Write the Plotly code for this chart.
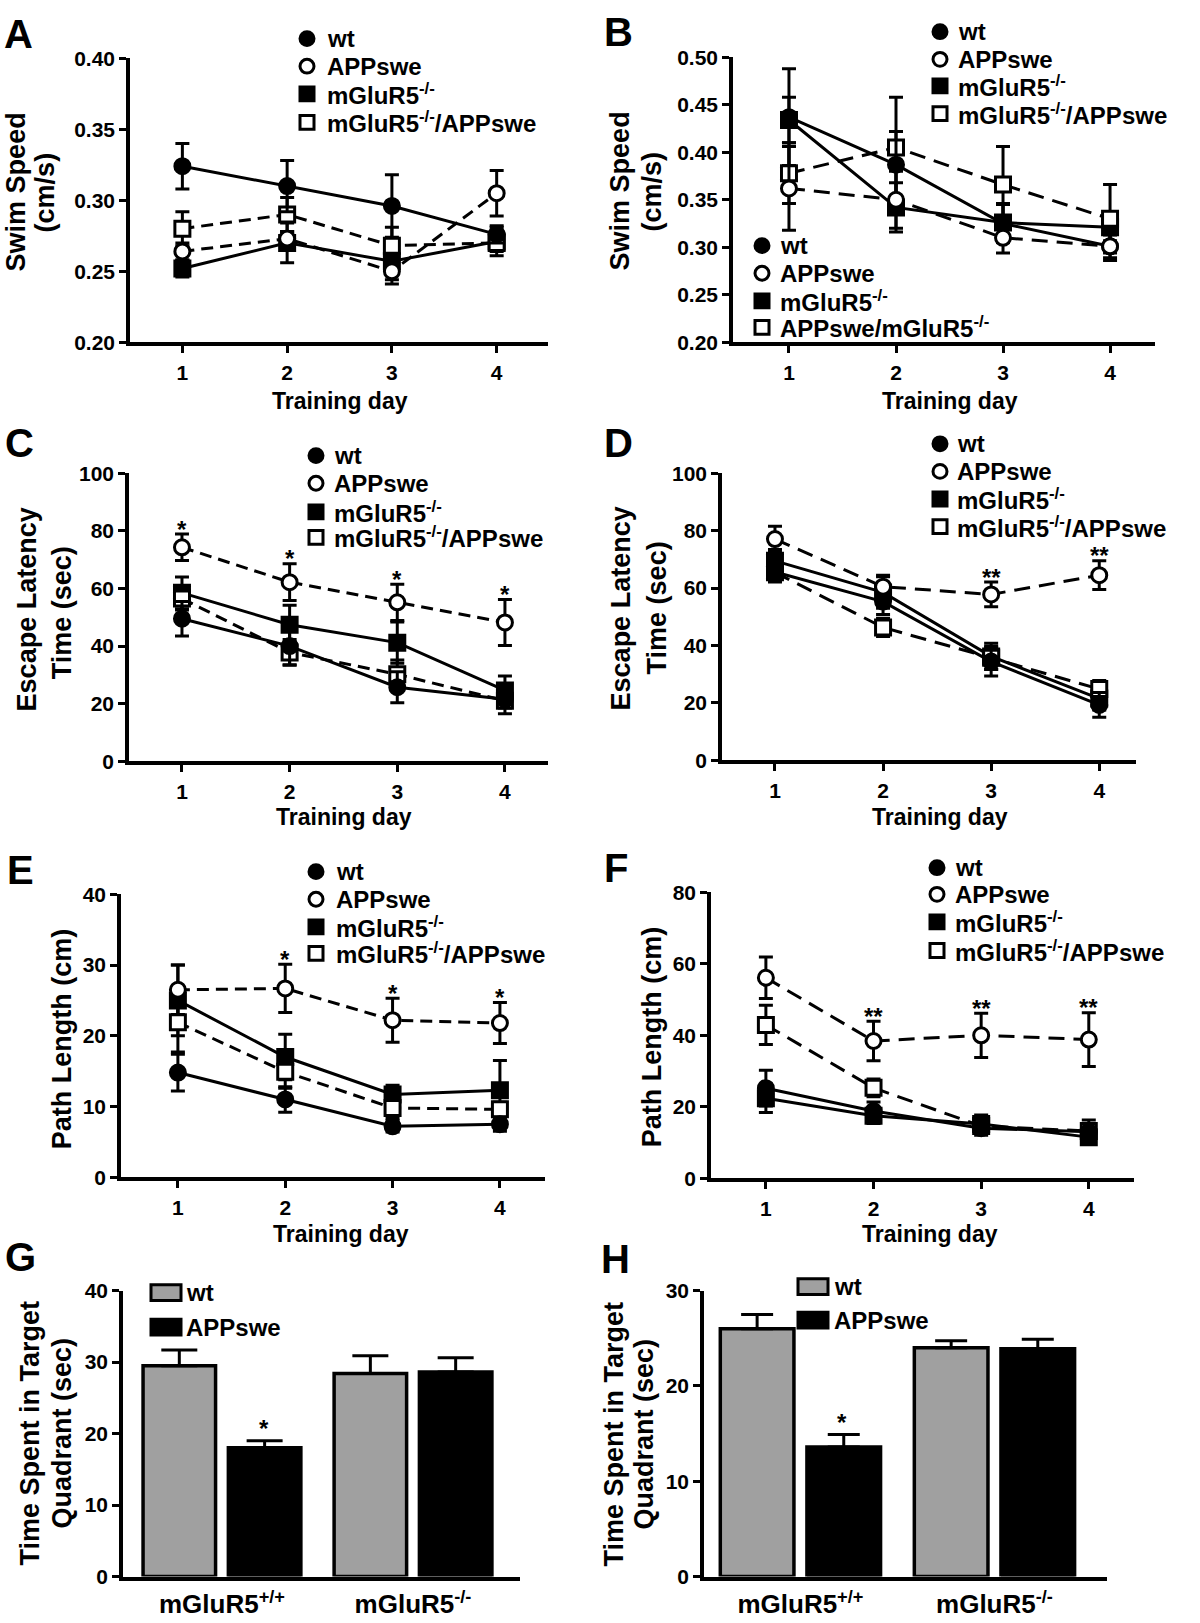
import plotly.graph_objects as go

W, H = 1200, 1623
FONT = "Liberation Sans, Arial, sans-serif"

days = [1, 2, 3, 4]

# ---- A: swim speed (cohort 1)
a_wt = [0.324, 0.310, 0.296, 0.276]
a_wt_err = [0.016, 0.018, 0.022, 0.006]
a_app = [0.264, 0.273, 0.250, 0.305]
a_app_err = [0.006, 0.005, 0.006, 0.016]
a_mglu = [0.252, 0.270, 0.257, 0.271]
a_mglu_err = [0.006, 0.014, 0.016, 0.010]
a_dbl = [0.280, 0.290, 0.268, 0.270]
a_dbl_err = [0.012, 0.012, 0.013, 0.006]

# ---- B: swim speed (cohort 2)
b_wt = [0.437, 0.387, 0.325, 0.301]
b_wt_err = [0.051, 0.035, 0.020, 0.015]
b_app = [0.362, 0.350, 0.310, 0.301]
b_app_err = [0.044, 0.030, 0.016, 0.012]
b_mglu = [0.434, 0.342, 0.326, 0.321]
b_mglu_err = [0.024, 0.026, 0.020, 0.014]
b_dbl = [0.378, 0.405, 0.366, 0.330]
b_dbl_err = [0.032, 0.053, 0.040, 0.036]

# ---- C: escape latency (cohort 1)
c_wt = [49.5, 40.0, 25.7, 21.5]
c_wt_err = [6.0, 6.5, 5.4, 3.0]
c_app = [74.3, 62.2, 55.2, 48.2]
c_app_err = [4.6, 6.4, 6.3, 8.0]
c_mglu = [58.5, 47.4, 41.2, 24.6]
c_mglu_err = [5.5, 6.8, 7.2, 5.0]
c_dbl = [56.5, 37.8, 30.2, 21.0]
c_dbl_err = [4.0, 4.5, 5.0, 4.5]

# ---- D: escape latency (cohort 2)
d_wt = [65.6, 55.3, 34.4, 19.3]
d_wt_err = [3.5, 4.5, 5.0, 4.3]
d_app = [77.1, 60.5, 57.8, 64.5]
d_app_err = [4.5, 4.0, 4.3, 5.0]
d_mglu = [69.5, 58.5, 36.2, 21.5]
d_mglu_err = [4.0, 5.5, 4.6, 4.0]
d_dbl = [65.5, 46.3, 35.7, 24.8]
d_dbl_err = [3.0, 3.2, 4.0, 3.0]

# ---- E: path length (cohort 1)
e_wt = [14.8, 11.0, 7.2, 7.5]
e_wt_err = [2.6, 1.8, 0.8, 1.0]
e_app = [26.5, 26.7, 22.2, 21.8]
e_app_err = [3.5, 3.4, 3.1, 2.9]
e_mglu = [25.0, 17.0, 11.7, 12.3]
e_mglu_err = [5.0, 3.2, 1.3, 4.2]
e_dbl = [21.9, 14.9, 9.8, 9.6]
e_dbl_err = [4.2, 2.3, 1.5, 1.0]

# ---- F: path length (cohort 2)
f_wt = [25.2, 18.8, 14.0, 13.0]
f_wt_err = [5.0, 2.5, 2.0, 3.3]
f_app = [56.1, 38.4, 40.0, 38.8]
f_app_err = [5.8, 5.5, 6.2, 7.5]
f_mglu = [22.4, 17.5, 15.2, 11.5]
f_mglu_err = [4.0, 2.2, 2.5, 1.5]
f_dbl = [42.9, 25.3, 14.6, 13.2]
f_dbl_err = [5.5, 2.5, 2.0, 1.5]

# ---- G / H: probe trial
genotypes = ["mGluR5<sup>+/+</sup>", "mGluR5<sup>-/-</sup>"]
g_wt = [29.5, 28.4]
g_wt_err = [2.2, 2.5]
g_app = [18.0, 28.6]
g_app_err = [1.0, 2.0]
h_wt = [26.0, 24.0]
h_wt_err = [1.5, 0.75]
h_app = [13.6, 23.9]
h_app_err = [1.3, 1.0]

# significance marks
c_stars = ["*", "*", "*", "*"]
d_stars = ["", "", "**", "**"]
e_stars = ["", "*", "*", "*"]
f_stars = ["", "**", "**", "**"]

legend_names = ["wt", "APPswe", "mGluR5<sup>-/-</sup>", "mGluR5<sup>-/-</sup>/APPswe"]
legend_names_b2 = ["wt", "APPswe", "mGluR5<sup>-/-</sup>", "APPswe/mGluR5<sup>-/-</sup>"]


def fx(x):
    return x / W


def fy(y):
    return 1 - y / H


fig = go.Figure()

# panel geometry in pixels: (x0, x1, ytop, ybottom)
geo = {
    1: (130, 548, 47, 335), 2: (733, 1155, 46, 335),
    3: (129, 548, 468, 760), 4: (722, 1136, 468, 759),
    5: (121, 545, 895, 1182), 6: (711, 1134, 893, 1183),
    7: (123, 520, 1297, 1587), 8: (704, 1107, 1297, 1587),
}
xranges = {1: [0.5, 4.49], 2: [0.477, 4.42], 3: [0.508, 4.4], 4: [0.51, 4.34],
           5: [0.47, 4.42], 6: [0.49, 4.42], 7: [-0.518, 1.56], 8: [-0.497, 1.58]}
yaxes_cfg = {1: ([0.2, 0.4], 0.05, ".2f"), 2: ([0.2, 0.5], 0.05, ".2f"),
             3: ([0, 100], 20, "d"), 4: ([0, 100], 20, "d"),
             5: ([0, 40], 10, "d"), 6: ([0, 80], 20, "d"),
             7: ([0, 40], 10, "d"), 8: ([0, 30], 10, "d")}

for i, (x0, x1, yt, yb) in geo.items():
    xn = "xaxis" if i == 1 else f"xaxis{i}"
    yn = "yaxis" if i == 1 else f"yaxis{i}"
    anchor_x = "y" if i == 1 else f"y{i}"
    anchor_y = "x" if i == 1 else f"x{i}"
    bar = i >= 7
    xa = dict(domain=[fx(x0), fx(x1)], anchor=anchor_x, range=xranges[i],
              showline=True, linewidth=3.5, linecolor="black", showgrid=False,
              zeroline=False, ticks="" if bar else "outside", ticklen=7, tickwidth=3,
              tickcolor="black", ticklabelstandoff=2,
              tickfont=dict(family=FONT, size=26 if bar else 21, color="black", weight="bold"))
    if bar:
        xa.update(type="category")
    else:
        xa.update(tickmode="array", tickvals=days, ticktext=[str(d) for d in days])
    yr, dt, fmt = yaxes_cfg[i]
    ya = dict(domain=[fy(yb), fy(yt)], anchor=anchor_y, range=yr, dtick=dt, tick0=yr[0],
              tickformat=fmt, showline=True, linewidth=3.5, linecolor="black",
              showgrid=False, zeroline=False, ticks="outside", ticklen=7, tickwidth=3,
              tickcolor="black",
              tickfont=dict(family=FONT, size=21, color="black", weight="bold"))
    fig.update_layout(**{xn: xa, yn: ya})


def add_panel(i, wt, wte, app, appe, mg, mge, dbl, dble, dash):
    xr = "x" if i == 1 else f"x{i}"
    yr = "y" if i == 1 else f"y{i}"
    series = [
        (mg, mge, "square", "black", "solid"),
        (dbl, dble, "square", "white", dash),
        (wt, wte, "circle", "black", "solid"),
        (app, appe, "circle", "white", dash),
    ]
    for vals, errs, sym, fill, ds in series:
        fig.add_trace(go.Scatter(
            x=days, y=vals, xaxis=xr, yaxis=yr, mode="lines+markers",
            line=dict(color="black", width=3, dash=ds),
            marker=dict(symbol=sym, size=15, color=fill,
                        line=dict(color="black", width=3)),
            error_y=dict(type="data", array=errs, visible=True, color="black",
                         thickness=3, width=7),
            showlegend=False))


add_panel(1, a_wt, a_wt_err, a_app, a_app_err, a_mglu, a_mglu_err, a_dbl, a_dbl_err, "12px,7px")
add_panel(2, b_wt, b_wt_err, b_app, b_app_err, b_mglu, b_mglu_err, b_dbl, b_dbl_err, "16px,9px")
add_panel(3, c_wt, c_wt_err, c_app, c_app_err, c_mglu, c_mglu_err, c_dbl, c_dbl_err, "12px,7px")
add_panel(4, d_wt, d_wt_err, d_app, d_app_err, d_mglu, d_mglu_err, d_dbl, d_dbl_err, "16px,9px")
add_panel(5, e_wt, e_wt_err, e_app, e_app_err, e_mglu, e_mglu_err, e_dbl, e_dbl_err, "12px,7px")
add_panel(6, f_wt, f_wt_err, f_app, f_app_err, f_mglu, f_mglu_err, f_dbl, f_dbl_err, "16px,9px")


def add_bars(i, wt, wte, app, appe):
    xr, yr = f"x{i}", f"y{i}"
    for vals, errs, col in [(wt, wte, "#a0a0a0"), (app, appe, "black")]:
        fig.add_trace(go.Bar(
            x=genotypes, y=vals, xaxis=xr, yaxis=yr,
            marker=dict(color=col, line=dict(color="black", width=3.5)),
            error_y=dict(type="data", array=errs, arrayminus=[0] * len(errs),
                         symmetric=False, visible=True, color="black",
                         thickness=3, width=18 if i == 7 else 16),
            showlegend=False))


add_bars(7, g_wt, g_wt_err, g_app, g_app_err)
add_bars(8, h_wt, h_wt_err, h_app, h_app_err)

ann = []
shapes = []
star_font = dict(family=FONT, size=24, color="black", weight="bold")

# significance asterisks anchored to error bar tops
for i, vals, errs, stars in [(3, c_app, c_app_err, c_stars), (4, d_app, d_app_err, d_stars),
                             (5, e_app, e_app_err, e_stars), (6, f_app, f_app_err, f_stars)]:
    for d, v, e, s in zip(days, vals, errs, stars):
        if s:
            ann.append(dict(x=d, y=v + e, xref=f"x{i}", yref=f"y{i}", text=s,
                            showarrow=False, yanchor="middle", yshift=5, font=star_font))
for i, vals, errs in [(7, g_app, g_app_err), (8, h_app, h_app_err)]:
    ann.append(dict(x=genotypes[0], y=vals[0] + errs[0], xref=f"x{i}", yref=f"y{i}",
                    text="*", showarrow=False, yanchor="middle", yshift=12, xshift=42,
                    font=star_font))

# panel letters
for t, cx, cy in [("A", 18, 22), ("B", 618, 20), ("C", 19, 437), ("D", 618, 437),
                  ("E", 20, 870), ("F", 616, 868), ("G", 20, 1263), ("H", 615, 1265)]:
    ann.append(dict(x=fx(cx), y=fy(cy), xref="paper", yref="paper", text=t, showarrow=False,
                    xanchor="center", yanchor="middle",
                    font=dict(family=FONT, size=40, color="black", weight="bold")))

# y-axis titles
for t, cx, cy in [("Swim Speed", 16, 183), ("(cm/s)", 45, 183),
                  ("Swim Speed", 620, 182), ("(cm/s)", 652, 182),
                  ("Escape Latency", 27, 606), ("Time (sec)", 62, 610),
                  ("Escape Latency", 621, 605), ("Time (sec)", 657, 605),
                  ("Path Length (cm)", 62, 1042), ("Path Length (cm)", 652, 1040),
                  ("Time Spent in Target", 30, 1442), ("Quadrant (sec)", 62, 1442),
                  ("Time Spent in Target", 614, 1443), ("Quadrant (sec)", 644, 1443)]:
    ann.append(dict(x=fx(cx), y=fy(cy), xref="paper", yref="paper", text=t, showarrow=False,
                    textangle=-90, xanchor="center", yanchor="middle",
                    font=dict(family=FONT, size=27, color="black", weight="bold")))

# x-axis titles
for cx, cy in [(340, 395), (950, 395), (344, 817), (940, 817), (341, 1240), (930, 1240)]:
    ann.append(dict(x=fx(cx), y=fy(cy), xref="paper", yref="paper", text="Training day",
                    showarrow=False, xanchor="center", yanchor="middle",
                    font=dict(family=FONT, size=23, color="black", weight="bold")))

# symbol legends
sym_spec = [("circle", "black"), ("circle", "white"), ("rect", "black"), ("rect", "white")]


def sym_legend(mx, tx, rows, names):
    for (kind, fill), cy, name in zip(sym_spec, rows, names):
        r = 7
        shapes.append(dict(type=kind, xref="paper", yref="paper",
                           x0=fx(mx - r), x1=fx(mx + r), y0=fy(cy + r), y1=fy(cy - r),
                           fillcolor=fill, line=dict(color="black", width=3)))
        ann.append(dict(x=fx(tx), y=fy(cy), xref="paper", yref="paper", text=name,
                        showarrow=False, xanchor="left", yanchor="middle",
                        font=dict(family=FONT, size=24, color="black", weight="bold")))


sym_legend(307, 325, [27, 55, 83, 112], legend_names)
sym_legend(940, 956, [20, 48, 75, 103], legend_names)
sym_legend(762, 778, [237, 265, 293, 320], legend_names_b2)
sym_legend(316, 332, [450, 478, 507, 533], legend_names)
sym_legend(940, 955, [438, 466, 494, 522], legend_names)
sym_legend(316, 334, [872, 900, 928, 955], legend_names)
sym_legend(937, 953, [868, 895, 923, 952], legend_names)


def bar_legend(bx0, bx1, tx, rows):
    for (fill, name), cy in zip([("#a0a0a0", "wt"), ("black", "APPswe")], rows):
        shapes.append(dict(type="rect", xref="paper", yref="paper",
                           x0=fx(bx0), x1=fx(bx1), y0=fy(cy + 8), y1=fy(cy - 8),
                           fillcolor=fill, line=dict(color="black", width=3)))
        ann.append(dict(x=fx(tx), y=fy(cy), xref="paper", yref="paper", text=name,
                        showarrow=False, xanchor="left", yanchor="middle",
                        font=dict(family=FONT, size=24, color="black", weight="bold")))


bar_legend(151, 181, 184, [1299, 1334])
bar_legend(798, 828, 832, [1293, 1327])

fig.update_layout(
    width=W, height=H, margin=dict(l=0, r=0, t=0, b=0),
    paper_bgcolor="white", plot_bgcolor="white", showlegend=False,
    font=dict(family=FONT, color="black", weight="bold"),
    barmode="group", bargap=0.107, bargroupgap=0.15,
    annotations=ann, shapes=shapes,
)

fig.write_html("out.html", config={"displayModeBar": False},
               post_script="document.body.style.margin='0px';")
